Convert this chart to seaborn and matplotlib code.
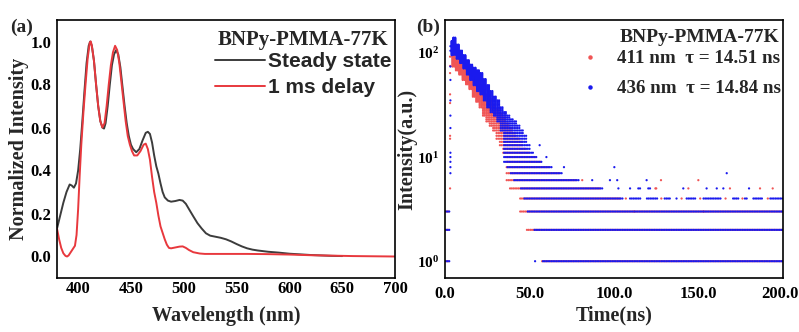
import numpy as np
import pandas as pd
import matplotlib
matplotlib.use("Agg")
import matplotlib.pyplot as plt
import matplotlib.transforms as mtransforms
import seaborn as sns
from matplotlib.font_manager import FontProperties
from matplotlib.lines import Line2D
from matplotlib.ticker import FixedLocator, FuncFormatter, NullLocator

# ---------------- data: panel (a) steady-state / delayed spectra ----------------
ss_wl = [380, 383, 386, 389, 392, 394, 396, 398, 400, 402, 404, 406, 408, 410, 411.5,
         413, 415, 417, 419, 421, 423, 424.5, 426, 428, 430, 432, 434, 436, 438, 440,
         442, 444, 446, 448, 450, 452, 455, 458, 461, 464, 466, 468, 470, 472, 474,
         476, 478, 480, 482, 485, 488, 492, 496, 499, 502, 505, 509, 513, 517, 521,
         525, 530, 535, 540, 545, 550, 555, 560, 565, 570, 575, 580, 590, 600, 610,
         620, 630, 640, 650]
ss_int = [0.13, 0.19, 0.25, 0.30, 0.335, 0.33, 0.32, 0.34, 0.40, 0.50, 0.63, 0.77, 0.90, 0.98, 1.0,
          0.98, 0.91, 0.80, 0.70, 0.63, 0.60, 0.595, 0.62, 0.70, 0.80, 0.89, 0.94, 0.96, 0.94, 0.88,
          0.79, 0.70, 0.62, 0.56, 0.52, 0.50, 0.485, 0.50, 0.54, 0.575, 0.58, 0.57, 0.53, 0.47, 0.42,
          0.385, 0.34, 0.30, 0.275, 0.26, 0.255, 0.258, 0.263, 0.26, 0.245, 0.22, 0.187, 0.155, 0.13, 0.108,
          0.097, 0.092, 0.087, 0.08, 0.07, 0.058, 0.047, 0.038, 0.032, 0.028, 0.025, 0.022, 0.018, 0.013, 0.010,
          0.007, 0.005, 0.003, 0.002]

dl_wl = [380, 382, 384, 386, 388, 389.5, 391, 393, 395, 397, 398.5, 400, 401.5, 403, 405,
         407, 409, 411, 412, 413, 415, 417, 419, 421, 423, 425, 427, 429, 431, 433,
         435, 437, 439, 441, 443, 445, 447, 449, 451, 453, 456, 459, 462, 464, 466,
         468, 470, 472, 474, 476, 478, 480, 482, 484, 486, 488, 492, 496, 499, 502,
         505, 509, 515, 520, 540, 560, 580, 600, 620, 640, 660, 680, 700]
dl_int = [0.13, 0.08, 0.04, 0.015, 0.003, 0.0, 0.005, 0.02, 0.035, 0.05, 0.10, 0.22, 0.38, 0.52, 0.67,
          0.80, 0.92, 0.995, 1.0, 0.98, 0.91, 0.80, 0.70, 0.63, 0.60, 0.62, 0.70, 0.80, 0.89, 0.95,
          0.98, 0.96, 0.90, 0.81, 0.72, 0.63, 0.56, 0.52, 0.49, 0.47, 0.47, 0.49, 0.52, 0.525, 0.50,
          0.45, 0.37, 0.30, 0.25, 0.19, 0.14, 0.11, 0.08, 0.055, 0.04, 0.038, 0.042, 0.046, 0.047, 0.04,
          0.03, 0.02, 0.014, 0.012, 0.012, 0.012, 0.011, 0.009, 0.006, 0.004, 0.002, 0.001, 0.0]

spec_labels = ["Steady state", "1 ms delay"]

# ---------------- data: panel (b) decay traces (counts per channel) ----------------
# runs of channels: [start, end) in ns, with every count level from lo..hi occupied
blue_seg_start = [0.5, 4, 5, 7, 9, 11, 13, 15, 17, 19, 21, 23, 25, 27, 29, 31, 33, 35, 37, 39, 41, 43,
                  45, 47, 49, 51, 53, 55, 58, 64, 70, 80, 94, 106,
                  109.5, 119.5, 130, 137, 143, 153, 170.5, 177.5, 182.5, 192.5]
blue_seg_end = [3.0, 5, 7, 9, 11, 13, 15, 17, 19, 21, 23, 25, 27, 29, 31, 33, 35, 37, 39, 41, 43, 45,
                47, 49, 51, 53, 55, 58, 64, 70, 80, 94, 106, 200.5,
                116.5, 126, 134, 137.6, 149, 163.5, 174.5, 179.5, 188.5, 200.5]
blue_seg_lo = [1, 95, 96, 88, 80, 71, 62, 55, 49, 43, 40, 35, 30, 27, 25, 22, 18, 9, 8, 7, 6, 6,
               5, 4, 3, 3, 2, 2, 1, 1, 1, 1, 1, 1,
               4, 4, 4, 4, 4, 4, 4, 4, 4, 4]
blue_seg_hi = [3, 130, 140, 120, 105, 95, 85, 77, 72, 68, 64, 56, 49, 43, 38, 35, 30, 27, 25, 23, 22, 20,
               18, 16, 13, 11, 10, 9, 8, 7, 6, 5, 4, 3,
               4, 4, 4, 4, 4, 4, 4, 4, 4, 4]
blue_iso_t = [3.2, 3.2, 3.2, 3.2, 3.2, 3.2, 3.2, 3.2, 3.2, 3.2, 3.2, 3.2,
              53.3, 56.0, 60.0, 70.4, 100.2, 166.7, 87.1, 97.6, 101.9, 119.3,
              102.6, 109.5, 114.4, 115.4, 120.3, 121.3, 141.0, 154.8, 160.8, 164.7, 179.9]
blue_iso_i = [7, 8, 9, 10, 11, 19, 25, 35, 55, 74, 105, 116,
              1, 13, 10, 8, 8, 7, 6, 6, 6, 6,
              5, 5, 5, 5, 5, 5, 5, 5, 5, 5, 5]

red_seg_start = [0.5, 4, 6, 8, 10, 12, 14, 16, 18, 20, 22, 24, 26, 28, 30, 32, 34, 36, 38, 40, 42,
                 44, 46, 48, 50, 54, 57, 62, 68, 78, 92, 104]
red_seg_end = [3.0, 6, 8, 10, 12, 14, 16, 18, 20, 22, 24, 26, 28, 30, 32, 34, 36, 38, 40, 42, 44,
               46, 48, 50, 54, 57, 62, 68, 78, 92, 104, 200.5]
red_seg_lo = [1, 74, 68, 62, 55, 50, 45, 38, 34, 30, 25, 22, 20, 18, 15, 13, 11, 6, 5, 5, 5,
              3, 3, 2, 2, 2, 1, 1, 1, 1, 1, 1]
red_seg_hi = [3, 95, 88, 82, 76, 70, 64, 58, 54, 49, 44, 40, 36, 32, 29, 26, 24, 21, 19, 17, 15,
              14, 12, 11, 10, 9, 8, 7, 6, 5, 4, 3]
red_iso_t = [3.0, 3.0, 3.0, 3.0, 3.0, 3.0, 3.0, 3.0,
             81.2, 127.8, 149.9, 124.5, 125.0, 144.0, 168.6, 186.4, 193.9,
             107, 128, 140, 151, 166, 176, 191, 112, 153]
red_iso_i = [5, 15, 16, 33, 40, 64, 75, 92,
             6, 6, 6, 5, 5, 5, 5, 5, 5,
             4, 4, 4, 4, 4, 4, 4, 3, 3]

decay_labels = ["411 nm  \u03c4 = 14.51 ns", "436 nm  \u03c4 = 14.84 ns"]
sample_name = "BNPy-PMMA-77K"


def expand(starts, ends, los, his, isot, isoi, step, offset):
    ts, cs = [], []
    for t0, t1, lo, hi in zip(starts, ends, los, his):
        for t in np.arange(t0 + offset, t1, step):
            for k in range(lo, hi + 1):
                ts.append(t)
                cs.append(k)
    ts += list(isot)
    cs += list(isoi)
    return ts, cs


rt, rc = expand(red_seg_start, red_seg_end, red_seg_lo, red_seg_hi, red_iso_t, red_iso_i, 1.0, 0.5)
bt, bc = expand(blue_seg_start, blue_seg_end, blue_seg_lo, blue_seg_hi, blue_iso_t, blue_iso_i, 1.0, 0.0)
decay_df = pd.DataFrame({
    "time": rt + bt,
    "counts": rc + bc,
    "series": [decay_labels[0]] * len(rt) + [decay_labels[1]] * len(bt),
})

spec_df = pd.concat([
    pd.DataFrame({"wl": ss_wl, "I": ss_int, "series": spec_labels[0]}),
    pd.DataFrame({"wl": dl_wl, "I": dl_int, "series": spec_labels[1]}),
])

# ---------------- styling ----------------
sns.set_theme(style="white")
plt.rcParams["font.family"] = ["Liberation Serif", "DejaVu Serif"]
plt.rcParams["font.weight"] = "bold"
plt.rcParams["mathtext.fontset"] = "custom"
plt.rcParams["mathtext.rm"] = "Liberation Serif:bold"
plt.rcParams["mathtext.bf"] = "Liberation Serif:bold"
plt.rcParams["mathtext.it"] = "Liberation Serif:bold:italic"

serif_b = dict(family="Liberation Serif", weight="bold")
line_colors = {spec_labels[0]: "#3c3c3c", spec_labels[1]: "#e8383d"}
dot_colors = {decay_labels[0]: "#f05555", decay_labels[1]: "#1a1aee"}

fig = plt.figure(figsize=(7.99, 3.32), dpi=100)
axa = fig.add_axes([57 / 799, 1 - 278 / 332, 338 / 799, 258 / 332])
axb = fig.add_axes([445 / 799, 1 - 278 / 332, 338 / 799, 258 / 332])

# ---------- panel (a) ----------
sns.lineplot(data=spec_df, x="wl", y="I", hue="series", palette=line_colors,
             estimator=None, sort=False, linewidth=1.4, ax=axa, legend=False)
axa.set_xlim(380, 700)
axa.set_ylim(-0.1, 1.1)
axa.xaxis.set_major_locator(FixedLocator([400, 450, 500, 550, 600, 650, 700]))
axa.yaxis.set_major_locator(FixedLocator([0.0, 0.2, 0.4, 0.6, 0.8, 1.0]))
axa.yaxis.set_major_formatter(FuncFormatter(lambda v, p: f"{v:.1f}"))
axa.set_xlabel("Wavelength (nm)", fontsize=14.5, labelpad=7, **serif_b)
axa.set_ylabel("Normalized Intensity", fontsize=14.5, labelpad=1, **serif_b)

axa.text((388 - 57) / 338, 1 - (40 - 20) / 258, sample_name, transform=axa.transAxes,
         ha="right", va="center", fontsize=15, **serif_b)
handles_a = [Line2D([0], [0], color=line_colors[l], lw=1.4) for l in spec_labels]
leg_a = axa.legend(handles_a, spec_labels, loc="upper right", frameon=False,
                   bbox_to_anchor=((391 - 57) / 338, 1 - (52 - 20) / 258),
                   prop=FontProperties(family="Liberation Sans", weight="bold", size=15),
                   handlelength=2.4, handletextpad=0.1, labelspacing=0.34,
                   borderaxespad=0.0, borderpad=0.0)

# ---------- panel (b) ----------
sns.scatterplot(data=decay_df, x="time", y="counts", hue="series", palette=dot_colors,
                s=2.6, linewidth=0, marker="o", ax=axb, legend=False)
axb.set_yscale("log")
axb.set_xlim(0, 200)
axb.set_ylim(0.69, 207)
axb.xaxis.set_major_locator(FixedLocator([0, 50, 100, 150, 200]))
axb.xaxis.set_major_formatter(FuncFormatter(lambda v, p: f"{v:.1f}"))
axb.yaxis.set_major_locator(FixedLocator([1, 10, 100]))
axb.yaxis.set_minor_locator(NullLocator())
axb.yaxis.set_major_formatter(FuncFormatter(lambda v, p: r"$\mathbf{10^{%d}}$" % int(round(np.log10(v)))))
axb.set_xlabel("Time(ns)", fontsize=14.5, labelpad=2, **serif_b)
axb.set_ylabel("Intensity(a.u.)", fontsize=14.5, labelpad=0, **serif_b)

axb.text((779 - 445) / 338, 1 - (37 - 20) / 258, sample_name, transform=axb.transAxes,
         ha="right", va="center", fontsize=14, **serif_b)
handles_b = [Line2D([0], [0], color=dot_colors[l], marker="o", ls="none", markersize=2.2)
             for l in decay_labels]
leg_b = axb.legend(handles_b, decay_labels, loc="upper right", frameon=False,
                   bbox_to_anchor=((781 - 445) / 338, 1 - (50 - 20) / 258),
                   prop=FontProperties(family="Liberation Serif", weight="bold", size=13.7),
                   handlelength=1.0, handletextpad=0.9, labelspacing=0.66,
                   borderaxespad=0.0, borderpad=0.0)

for ax in (axa, axb):
    for sp in ax.spines.values():
        sp.set_visible(True)
        sp.set_color("black")
        sp.set_linewidth(1.2)
    ax.tick_params(axis="both", which="major", direction="in", length=4, width=1.1,
                   colors="black", labelsize=12, pad=4)
    ax.tick_params(axis="both", which="minor", length=0)
    for lab in ax.get_xticklabels() + ax.get_yticklabels():
        lab.set_fontfamily("Liberation Serif")
        lab.set_fontweight("bold")
    ax.set_facecolor("white")
axa.tick_params(axis="x", pad=2)
axb.tick_params(axis="x", pad=6)
axb.tick_params(axis="y", labelsize=11)

# keep the last time label inside the canvas
fig.canvas.draw()
last = axb.get_xticklabels()[-1]
last.set_transform(last.get_transform() + mtransforms.ScaledTranslation(-3 / 100, 0, fig.dpi_scale_trans))

fig.text(10 / 799, 1 - 27 / 332, "(a)", fontsize=14, va="center", ha="left", **serif_b)
fig.text(416 / 799, 1 - 27 / 332, "(b)", fontsize=14, va="center", ha="left", **serif_b)

fig.savefig("out.png", dpi=100, facecolor="white")
